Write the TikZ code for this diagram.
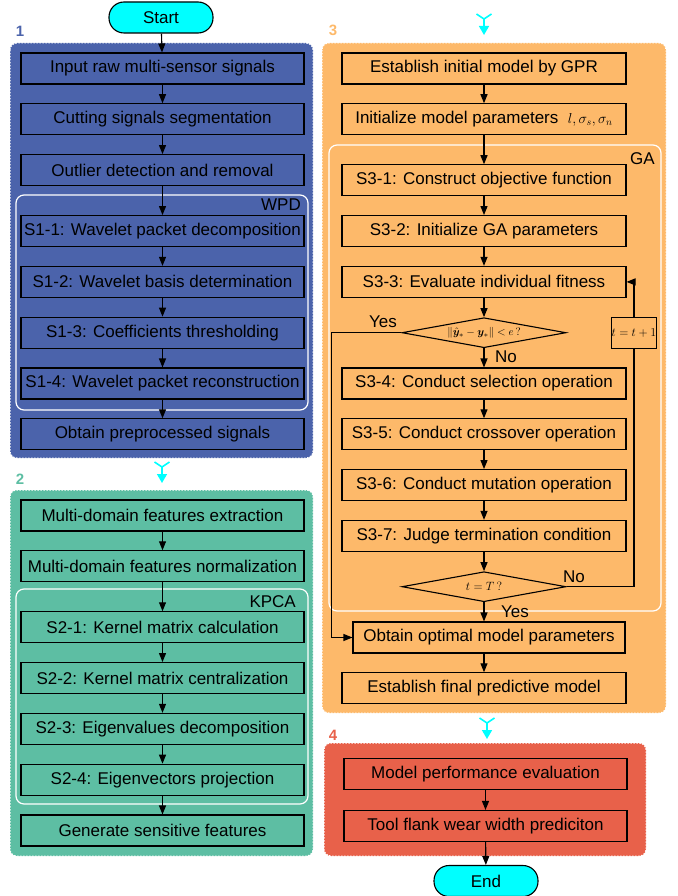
\documentclass[tikz,border=0pt]{standalone}
\usepackage{amsmath}
\usepackage{amssymb}
\usepackage{bm}
\usepackage{fontspec}
\setmainfont{Liberation Sans}
\usepackage{tikz}
\usetikzlibrary{arrows.meta,shapes.geometric}

\definecolor{phaseblue}{RGB}{75,99,171}
\definecolor{phasegreen}{RGB}{93,190,163}
\definecolor{phaseorange}{RGB}{253,185,106}
\definecolor{phasered}{RGB}{232,97,74}
\definecolor{termcyan}{RGB}{0,255,255}

\begin{document}
\begin{tikzpicture}[x=1pt,y=-1pt,node distance=50.8pt,>={Triangle[length=9pt,width=7pt]},
  proc node/.style={rectangle,draw=black,line width=1.1pt,minimum width=283pt,minimum height=31pt,
    inner sep=0pt,font=\fontsize{17}{20}\selectfont},
  term node/.style={rectangle,rounded corners=15pt,draw=black,line width=1.1pt,fill=termcyan,
    minimum width=104pt,minimum height=31pt,font=\fontsize{17}{20}\selectfont},
  dec node/.style={diamond,draw=black,line width=1.1pt,aspect=5.4,inner sep=0pt,
    minimum width=164pt,minimum height=30pt,font=\fontsize{12}{14}\selectfont},
  group box/.style={draw=white,line width=1pt,dash pattern=on 1.5pt off 1.5pt,rounded corners=7pt},
  inner box/.style={draw=white,line width=1.2pt,rounded corners=8pt},
  phase label/.style={font=\fontsize{15}{18}\selectfont\bfseries},
  plain text/.style={font=\fontsize{17}{20}\selectfont,inner sep=0pt},
  fork/.style={termcyan,line width=1.6pt}]

  \useasboundingbox (0,0) rectangle (677,896);

  % phase backgrounds
  \draw[group box,fill=phaseblue] (10,43) rectangle (313,458);
  \draw[group box,fill=phasegreen] (10,490) rectangle (313,856);
  \draw[group box,fill=phaseorange] (322,43) rectangle (666,713);
  \draw[group box,fill=phasered] (324,743) rectangle (646,856);
  \draw[inner box] (16,195) rectangle (308,410);
  \draw[inner box] (16,589) rectangle (308,804);
  \draw[inner box] (329,145) rectangle (661,611);

  \node[phase label,text=phaseblue] (p1) at (20,31) {1};
  \node[phase label,text=phasegreen] (p2) at (20,479) {2};
  \node[phase label,text=phaseorange] (p3) at (333,30) {3};
  \node[phase label,text=phasered] (p4) at (333,735) {4};
  \node[plain text,anchor=east] (wpd) at (301,205) {WPD};
  \node[plain text,anchor=east] (kpca) at (296,602) {KPCA};
  \node[plain text,anchor=east] (ga) at (655,159) {GA};

  % phase 1
  \node[term node] (start) at (161,17.5) {Start};
  \node[proc node] (in1) at (162.5,68.5) {Input raw multi-sensor signals};
  \node[proc node] [below of=in1] (cut) {Cutting signals segmentation};
  \node[proc node] [below of=cut] (outl) {Outlier detection and removal};
  \node[proc node] [below of=outl,node distance=61pt] (s11) {S1-1: Wavelet packet decomposition};
  \node[proc node] [below of=s11] (s12) {S1-2: Wavelet basis determination};
  \node[proc node] [below of=s12] (s13) {S1-3: Coefficients thresholding};
  \node[proc node] [below of=s13] (s14) {S1-4: Wavelet packet reconstruction};
  \node[proc node] [below of=s14] (prep) {Obtain preprocessed signals};

  % phase 2
  \node[proc node] (mfe) at (162.5,515.5) {Multi-domain features extraction};
  \node[proc node] [below of=mfe] (mfn) {Multi-domain features normalization};
  \node[proc node] [below of=mfn,node distance=61pt] (s21) {S2-1: Kernel matrix calculation};
  \node[proc node] [below of=s21] (s22) {S2-2: Kernel matrix centralization};
  \node[proc node] [below of=s22] (s23) {S2-3: Eigenvalues decomposition};
  \node[proc node] [below of=s23] (s24) {S2-4: Eigenvectors projection};
  \node[proc node] [below of=s24] (gsf) {Generate sensitive features};

  % phase 3
  \node[proc node,minimum width=284pt] (gpr) at (484,68.5) {Establish initial model by GPR};
  \node[proc node,minimum width=284pt] [below of=gpr] (init)
    {Initialize model parameters\ \ {\fontsize{14}{16}\selectfont$l,\sigma_s,\sigma_n$}};
  \node[proc node,minimum width=284pt] [below of=init,node distance=61pt] (s31) {S3-1: Construct objective function};
  \node[proc node,minimum width=284pt] [below of=s31] (s32) {S3-2: Initialize GA parameters};
  \node[proc node,minimum width=284pt] [below of=s32] (s33) {S3-3: Evaluate individual fitness};
  \node[dec node,font=\fontsize{11}{13}\selectfont] [below of=s33] (d1)
    {$\left\|\hat{\bm{y}}_{*}-\bm{y}_{*}\right\|<e\,?$};
  \node[proc node,minimum width=284pt] [below of=d1] (s34) {S3-4: Conduct selection operation};
  \node[proc node,minimum width=284pt] [below of=s34] (s35) {S3-5: Conduct crossover operation};
  \node[proc node,minimum width=284pt] [below of=s35] (s36) {S3-6: Conduct mutation operation};
  \node[proc node,minimum width=284pt] [below of=s36] (s37) {S3-7: Judge termination condition};
  \node[dec node] [below of=s37] (d2) {$t=T\,?$};
  \node[proc node,minimum width=272pt] [below of=d2,xshift=5pt] (obt) {Obtain optimal model parameters};
  \node[proc node,minimum width=284pt] [below of=obt,xshift=-5pt] (fin) {Establish final predictive model};
  \node[rectangle,draw=black,line width=1.1pt,minimum width=43pt,minimum height=31pt,inner sep=0pt,
    font=\fontsize{11.5}{14}\selectfont] (tt) at (634,333) {$t=t+1$};

  \node[plain text] (yes1) at (383,322) {Yes};
  \node[plain text] (no1) at (506,357) {No};
  \node[plain text] (no2) at (574,577) {No};
  \node[plain text] (yes2) at (515,612) {Yes};

  % phase 4
  \node[proc node] (mpe) at (485.5,774) {Model performance evaluation};
  \node[proc node] [below of=mpe,node distance=52pt] (tfw) {Tool flank wear width prediciton};
  \node[term node] (end) at (486,881) {End};

  % connectors
  \path[->,line width=1.1pt]
    (start) edge (in1)
    (in1) edge (cut)
    (cut) edge (outl)
    (outl) edge (s11)
    (s11) edge (s12)
    (s12) edge (s13)
    (s13) edge (s14)
    (s14) edge (prep)
    (mfe) edge (mfn)
    (mfn) edge (s21)
    (s21) edge (s22)
    (s22) edge (s23)
    (s23) edge (s24)
    (s24) edge (gsf)
    (gpr) edge (init)
    (init) edge (s31)
    (s31) edge (s32)
    (s32) edge (s33)
    (s33) edge (d1)
    (d1) edge (s34)
    (s34) edge (s35)
    (s35) edge (s36)
    (s36) edge (s37)
    (s37) edge (d2)
    (mpe) edge (tfw)
    (tfw) edge (end);
  \draw[->,line width=1.1pt] (d2.south) -- (d2.south |- obt.north);
  \draw[->,line width=1.1pt] (obt.south -| fin.north) -- (fin.north);
  \draw[->,line width=1.1pt] (d1.west) -- ++(-70,0) |- (obt.west);
  \draw[line width=1.1pt] (d2.east) -| (tt.south);
  \draw[->,line width=1.1pt] (tt.north) |- (s33.east);

  % links between phases
  \coordinate (f1) at (162,462);
  \coordinate (f2) at (484,14);
  \coordinate (f3) at (487,718);
  \foreach \f in {f1,f2,f3} {
    \draw[fork] (\f) ++(-7.5,0) -- ++(7.5,5) -- ++(7.5,-5);
    \draw[fork,-{Triangle[length=9pt,width=10pt]}] (\f) ++(0,5) -- ++(0,16);
  }
\end{tikzpicture}
\end{document}
